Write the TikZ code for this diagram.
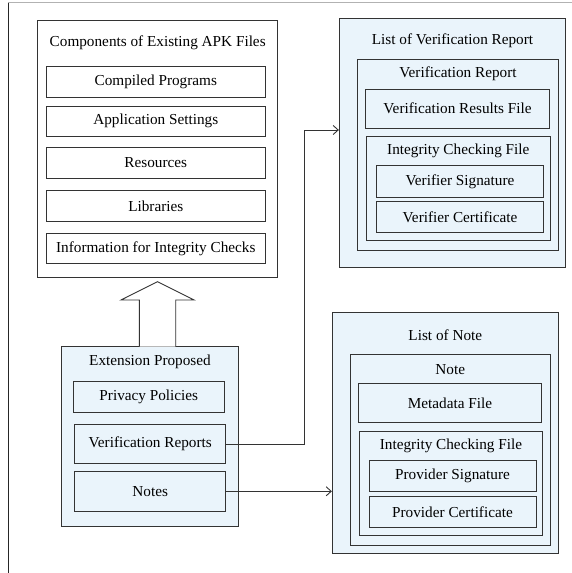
\documentclass[tikz,border=0pt]{standalone}
\usepackage{fontspec}
\setmainfont{Liberation Serif}
\usetikzlibrary{arrows.meta}
\definecolor{fillblue}{HTML}{EAF4FB}
\tikzset{
  box/.style={draw=black!80, line width=0.9bp, rectangle, inner sep=0pt, font=\fontsize{15.3}{18}\selectfont},
  wbox/.style={box, fill=white},
  bbox/.style={box, fill=fillblue},
  ttl/.style={inner sep=0pt, font=\fontsize{15.3}{18}\selectfont},
  arr/.style={draw=black!80, line width=0.9bp, -{Straight Barb[length=5bp,width=9bp]}}
}
\begin{document}
\begin{tikzpicture}[x=1bp,y=-1bp]
\useasboundingbox (0,0) rectangle (572,573);
% frame
\draw[black!30, line width=1bp] (8,3) -- (572,3);
\draw[black!85, line width=1.3bp] (8.5,3) -- (8.5,573);

% left: components
\node[wbox, minimum width=240bp, minimum height=257bp] (comp) at (157.7,148.5) {};
\node[ttl] (compt) at (157.7,43) {Components of Existing APK Files};
\node[wbox, minimum width=218.3bp, minimum height=30.6bp] (cp) at (155.8,82) {Compiled Programs};
\node[wbox, minimum width=218.3bp, minimum height=30.6bp] (as) at (155.8,121.3) {Application Settings};
\node[wbox, minimum width=218.3bp, minimum height=30.6bp] (res) at (155.8,163) {Resources};
\node[wbox, minimum width=218.3bp, minimum height=30.6bp] (lib) at (155.8,206) {Libraries};
\node[wbox, minimum width=218.3bp, minimum height=30bp] (info) at (155.8,248.3) {Information for Integrity Checks};

% extension
\node[bbox, minimum width=176.6bp, minimum height=180bp] (ext) at (150,436.7) {};
\node[ttl] (extt) at (150,361.7) {Extension Proposed};
\node[bbox, minimum width=151bp, minimum height=30.6bp] (pp) at (148.8,397) {Privacy Policies};
\node[bbox, minimum width=151bp, minimum height=39.4bp] (vr) at (150.2,444) {Verification Reports};
\node[bbox, minimum width=151bp, minimum height=39.4bp] (notes) at (150.2,491.3) {Notes};

% block arrow
\draw[draw=black!80, line width=0.9bp, fill=white]
  (139.3,346.7) -- (139.3,300) -- (121,300) -- (157.5,281.7) -- (194,300) -- (175.7,300) -- (175.7,346.7);

% right top
\node[bbox, minimum width=226.4bp, minimum height=249.4bp] (rtop) at (452.5,143) {};
\node[ttl] (rtopt) at (452.5,41) {List of Verification Report};
\node[bbox, minimum width=200.6bp, minimum height=190.7bp] (vrep) at (458,154.7) {};
\node[ttl] (vrept) at (458,74) {Verification Report};
\node[bbox, minimum width=183.6bp, minimum height=39.3bp] (vrf) at (457.5,108.7) {Verification Results File};
\node[bbox, minimum width=183.3bp, minimum height=104bp] (icf1) at (458.3,188.7) {};
\node[ttl] (icf1t) at (458.3,151) {Integrity Checking File};
\node[bbox, minimum width=166.6bp, minimum height=31.6bp] (vs) at (460,181.5) {Verifier Signature};
\node[bbox, minimum width=166.6bp, minimum height=31bp] (vc) at (460,217.2) {Verifier Certificate};

% right bottom
\node[bbox, minimum width=226bp, minimum height=241bp] (rbot) at (445.3,432.8) {};
\node[ttl] (rbott) at (445.3,335) {List of Note};
\node[bbox, minimum width=200.7bp, minimum height=191bp] (note) at (450.3,449.5) {};
\node[ttl] (notet) at (450.3,369.3) {Note};
\node[bbox, minimum width=183.4bp, minimum height=39.4bp] (mf) at (450,403) {Metadata File};
\node[bbox, minimum width=183.4bp, minimum height=104bp] (icf2) at (451,483) {};
\node[ttl] (icf2t) at (451,445.7) {Integrity Checking File};
\node[bbox, minimum width=167bp, minimum height=31bp] (ps) at (452.5,475.5) {Provider Signature};
\node[bbox, minimum width=167bp, minimum height=31bp] (pc) at (452.5,512.2) {Provider Certificate};

% connectors
\coordinate (bend) at (304.7,130);
\draw[arr] (vr.east) -| (bend) -- (bend -| rtop.west);
\draw[arr] (notes.east) -- (notes.east -| rbot.west);
\end{tikzpicture}
\end{document}
